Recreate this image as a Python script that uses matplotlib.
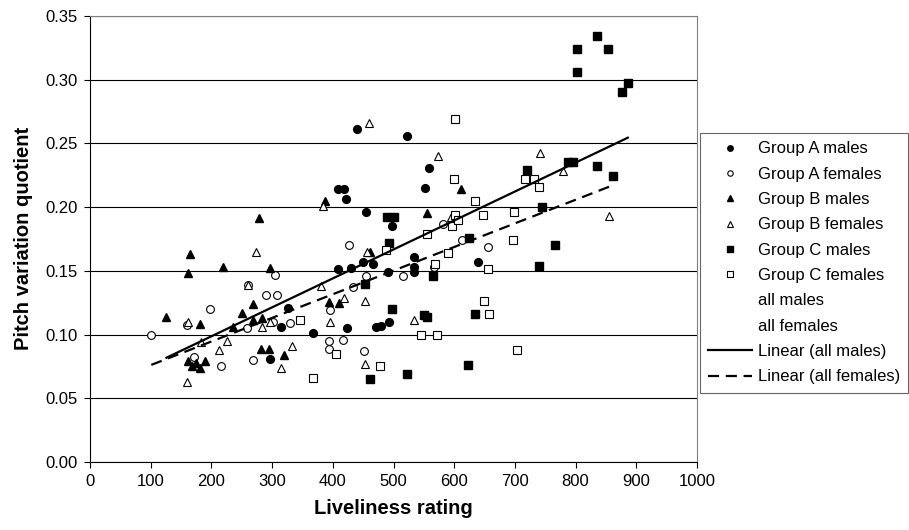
import numpy as np
import matplotlib
matplotlib.use("Agg")
import matplotlib.pyplot as plt

plt.rcParams['font.family'] = ['Liberation Sans', 'DejaVu Sans']

# Group A
a_male_x = [327, 314, 297, 367, 424, 471, 479, 493, 408, 430, 450, 467, 491, 534, 533, 533,
            639, 440, 523, 558, 552, 408, 419, 422, 455, 497]
a_male_y = [0.121, 0.106, 0.081, 0.101, 0.105, 0.106, 0.107, 0.110, 0.151, 0.152, 0.157, 0.155,
            0.149, 0.161, 0.153, 0.149, 0.157, 0.261, 0.256, 0.231, 0.215, 0.214, 0.214, 0.206,
            0.196, 0.185]
a_female_x = [101, 160, 171, 198, 215, 258, 261, 269, 290, 302, 305, 308, 330, 394, 394, 395,
              416, 426, 433, 451, 455, 515, 567, 582, 613, 656]
a_female_y = [0.100, 0.1075, 0.082, 0.120, 0.075, 0.105, 0.139, 0.080, 0.131, 0.110, 0.147,
              0.131, 0.109, 0.095, 0.089, 0.119, 0.096, 0.170, 0.1375, 0.087, 0.146, 0.146,
              0.153, 0.187, 0.174, 0.169]

# Group B
b_male_x = [126, 161, 164, 161, 168, 175, 181, 189, 181, 219, 236, 250, 268, 269, 284, 278,
            281, 295, 296, 320, 387, 394, 411, 461, 555, 611]
b_male_y = [0.1135, 0.148, 0.163, 0.079, 0.075, 0.078, 0.074, 0.079, 0.1085, 0.153, 0.1056,
            0.1166, 0.124, 0.111, 0.113, 0.1916, 0.089, 0.089, 0.152, 0.084, 0.205, 0.1257,
            0.125, 0.165, 0.195, 0.214]
b_female_x = [159, 161, 183, 212, 225, 261, 273, 284, 297, 314, 333, 380, 384, 396, 418, 453,
              453, 457, 460, 534, 573, 595, 742, 780, 855]
b_female_y = [0.063, 0.110, 0.094, 0.088, 0.095, 0.139, 0.165, 0.106, 0.110, 0.074, 0.091,
              0.138, 0.201, 0.110, 0.129, 0.126, 0.077, 0.165, 0.266, 0.111, 0.240, 0.192,
              0.242, 0.228, 0.193]

# Group C
c_male_x = [453, 461, 489, 500, 492, 497, 522, 551, 555, 565, 622, 624, 634, 720, 740, 745,
            766, 787, 796, 802, 802, 836, 836, 854, 861, 876, 886]
c_male_y = [0.140, 0.065, 0.192, 0.192, 0.172, 0.120, 0.069, 0.115, 0.114, 0.146, 0.076,
            0.176, 0.116, 0.229, 0.154, 0.200, 0.170, 0.235, 0.235, 0.306, 0.324, 0.334,
            0.232, 0.324, 0.224, 0.290, 0.297]
c_female_x = [346, 367, 405, 478, 488, 545, 555, 568, 572, 590, 597, 599, 601, 602, 607, 635,
              647, 649, 655, 658, 697, 699, 704, 717, 732, 740]
c_female_y = [0.111, 0.066, 0.085, 0.0755, 0.166, 0.100, 0.179, 0.155, 0.100, 0.164, 0.185,
              0.222, 0.269, 0.194, 0.190, 0.2045, 0.194, 0.126, 0.151, 0.116, 0.174, 0.196,
              0.088, 0.222, 0.222, 0.2155]

x_ticks = list(range(0, 1001, 100))
y_ticks = [0.00, 0.05, 0.10, 0.15, 0.20, 0.25, 0.30, 0.35]


def add_trend(ax, xs, ys, style, label):
    xs = np.asarray(xs, dtype=float)
    ys = np.asarray(ys, dtype=float)
    slope, icpt = np.polyfit(xs, ys, 1)
    xr = np.array([xs.min(), xs.max()])
    ax.plot(xr, slope * xr + icpt, color='black', linestyle=style, linewidth=1.6,
            label=label, zorder=4)


fig = plt.figure(figsize=(9.09, 5.30), dpi=100)
ax = fig.add_axes([90 / 909, 1 - 462 / 530, 607 / 909, (462 - 15.8) / 530])

ms = 5.6
ax.plot(a_male_x, a_male_y, 'o', color='black', ms=ms, label='Group A males', zorder=3)
ax.plot(a_female_x, a_female_y, 'o', mfc='white', mec='black', mew=0.8, ms=ms,
        label='Group A females', zorder=3)
ax.plot(b_male_x, b_male_y, '^', color='black', ms=ms + 0.6, label='Group B males', zorder=3)
ax.plot(b_female_x, b_female_y, '^', mfc='white', mec='black', mew=0.8, ms=ms + 0.6,
        label='Group B females', zorder=3)
ax.plot(c_male_x, c_male_y, 's', color='black', ms=ms, label='Group C males', zorder=3)
ax.plot(c_female_x, c_female_y, 's', mfc='white', mec='black', mew=0.8, ms=ms,
        label='Group C females', zorder=3)
ax.plot([], [], linestyle='none', marker='none', label='all males')
ax.plot([], [], linestyle='none', marker='none', label='all females')

add_trend(ax, a_male_x + b_male_x + c_male_x, a_male_y + b_male_y + c_male_y, '-',
          'Linear (all males)')
add_trend(ax, a_female_x + b_female_x + c_female_x, a_female_y + b_female_y + c_female_y,
          (0, (5, 3)), 'Linear (all females)')

ax.set_xlim(0, 1000)
ax.set_ylim(0, 0.35)
ax.set_xticks(x_ticks)
ax.set_yticks(y_ticks)
ax.set_yticklabels([f"{v:.2f}" for v in y_ticks])
ax.tick_params(labelsize=12, direction='out', length=4, width=0.8, pad=5)
ax.grid(axis='y', color='black', linewidth=0.8)
ax.set_axisbelow(True)
for side in ['top', 'right']:
    ax.spines[side].set_color('#808080')
ax.set_xlabel("Liveliness rating", fontsize=14.5, fontweight='bold', labelpad=7)
ax.set_ylabel("Pitch variation quotient", fontsize=14.5, fontweight='bold', labelpad=9)

leg = ax.legend(loc='upper left', bbox_to_anchor=(700 / 909, 1 - 133 / 530),
                bbox_transform=fig.transFigure, frameon=True, fancybox=False,
                edgecolor='#404040', fontsize=12, handlelength=2.6, handletextpad=0.35,
                labelspacing=0.62, markerscale=0.7, borderaxespad=0, borderpad=0.5)
leg.get_frame().set_linewidth(0.8)

fig.savefig("out.png", dpi=100)
